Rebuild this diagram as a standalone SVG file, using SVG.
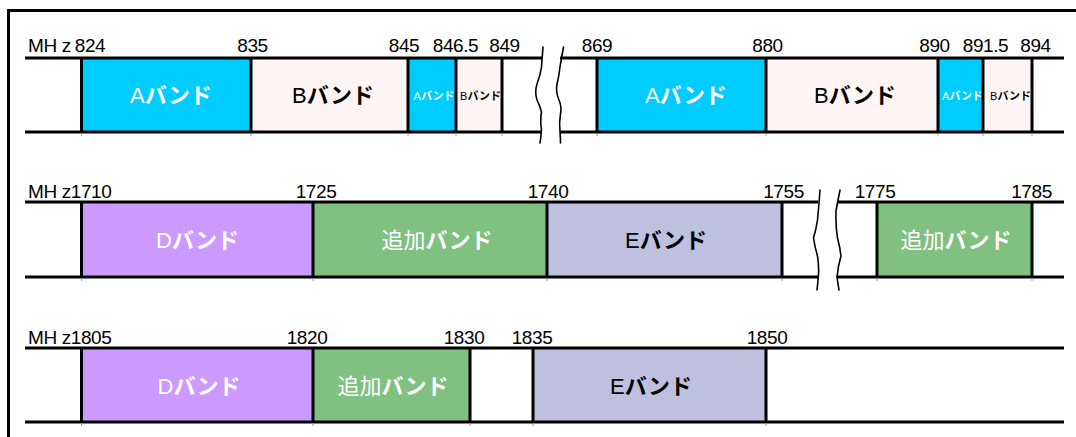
<svg xmlns="http://www.w3.org/2000/svg" width="1076" height="437" viewBox="0 0 1076 437">
<style>
.ln{stroke:#000;stroke-width:3;fill:none}
.wv{stroke:#000;stroke-width:1.6;fill:none;stroke-linejoin:round;stroke-linecap:round}
.tk{stroke:#999;stroke-width:1}
.num{font-family:"Liberation Sans",Arial,sans-serif;font-size:19px;letter-spacing:-0.4px;fill:#000}
.mid{text-anchor:middle}
.lbl{font-family:"Liberation Sans","Noto Sans CJK JP",sans-serif;font-size:22px;text-anchor:middle}
.sm{font-size:11px}
.w{fill:#fff}
.k{fill:#000}
.kn{font-family:"Noto Sans CJK JP",sans-serif;font-weight:700}
.cA{fill:#00CCFF}
.cB{fill:#FFF5F5}
.cD{fill:#CC99FF}
.cG{fill:#80C080}
.cE{fill:#BFBFDF}
</style>
<rect width="1076" height="437" fill="#fff"/>
<g id="frame">
<path class="ln" d="M8.5,437 V10.5 H1076"/>
</g>

<!-- Row 1 bands -->
<g id="r1-a1"><rect class="cA" x="81" y="58" width="170" height="74"/><text class="lbl w" x="171" y="103">A<tspan class="kn">バンド</tspan></text></g>
<g id="r1-b1"><rect class="cB" x="251" y="58" width="157" height="74"/><text class="lbl k" x="333" y="103">B<tspan class="kn">バンド</tspan></text></g>
<g id="r1-a1s"><rect class="cA" x="408" y="58" width="48" height="74"/><text class="lbl sm w" x="434" y="100">A<tspan class="kn">バンド</tspan></text></g>
<g id="r1-b1s"><rect class="cB" x="456" y="58" width="46" height="74"/><text class="lbl sm k" x="480.5" y="100">B<tspan class="kn">バンド</tspan></text></g>
<g id="r1-a2"><rect class="cA" x="597" y="58" width="169" height="74"/><text class="lbl w" x="686" y="103">A<tspan class="kn">バンド</tspan></text></g>
<g id="r1-b2"><rect class="cB" x="766" y="58" width="172" height="74"/><text class="lbl k" x="855" y="103">B<tspan class="kn">バンド</tspan></text></g>
<g id="r1-a2s"><rect class="cA" x="938" y="58" width="45" height="74"/><text class="lbl sm w" x="962.5" y="100">A<tspan class="kn">バンド</tspan></text></g>
<g id="r1-b2s"><rect class="cB" x="983" y="58" width="49" height="74"/><text class="lbl sm k" x="1010.5" y="100">B<tspan class="kn">バンド</tspan></text></g>

<!-- Row 2 bands -->
<g id="r2-d"><rect class="cD" x="81" y="202" width="232" height="75"/><text class="lbl w" x="197.5" y="248">D<tspan class="kn">バンド</tspan></text></g>
<g id="r2-g1"><rect class="cG" x="313" y="202" width="234" height="75"/><text class="lbl w" x="437" y="248">追加<tspan class="kn">バンド</tspan></text></g>
<g id="r2-e"><rect class="cE" x="547" y="202" width="235" height="75"/><text class="lbl k" x="666" y="248">E<tspan class="kn">バンド</tspan></text></g>
<g id="r2-g2"><rect class="cG" x="877" y="202" width="155" height="75"/><text class="lbl w" x="956" y="248">追加<tspan class="kn">バンド</tspan></text></g>

<!-- Row 3 bands -->
<g id="r3-d"><rect class="cD" x="81" y="348" width="232" height="74"/><text class="lbl w" x="199" y="394">D<tspan class="kn">バンド</tspan></text></g>
<g id="r3-g"><rect class="cG" x="313" y="348" width="157" height="74"/><text class="lbl w" x="393" y="394">追加<tspan class="kn">バンド</tspan></text></g>
<g id="r3-e"><rect class="cE" x="533" y="348" width="233" height="74"/><text class="lbl k" x="651" y="394">E<tspan class="kn">バンド</tspan></text></g>

<g id="lines">
<!-- row 1 -->
<path class="ln" d="M25,58 H542 M560,58 H1064 M25,132 H542 M560,132 H1064"/>
<path class="ln" d="M81.5,58 V132 M251,58 V132 M408,58 V132 M456,58 V132 M502,58 V132 M597,58 V132 M766,58 V132 M938,58 V132 M983,58 V132 M1032,58 V132"/>
<path class="tk" d="M81.5,133 V136 M251,133 V136 M408,133 V136 M456,133 V136 M502,133 V136 M597,133 V136 M766,133 V136 M938,133 V136 M983,133 V136 M1032,133 V136"/>
<path class="wv" d="M543,47 Q542,60 541.5,67 Q540.5,75 537,84 Q534.5,92 537,100 Q540,106 541.5,112 Q540,120 541.5,130 Q541,137 540,143"/>
<path class="wv" d="M563.5,47 Q561.5,58 560,67 Q559,76 557,84 Q555.5,92 559,100 Q562,107 560.5,114 Q559,122 560,132 Q560.5,138 560.5,143"/>
<!-- row 2 -->
<path class="ln" d="M25,202 H818 M837,202 H1064 M25,277 H818 M837,277 H1064"/>
<path class="ln" d="M81.5,202 V277 M313,202 V277 M547,202 V277 M782,202 V277 M877,202 V277 M1032,202 V277"/>
<path class="tk" d="M81.5,278 V281 M313,278 V281 M547,278 V281 M782,278 V281 M877,278 V281 M1032,278 V281"/>
<path class="wv" d="M820,190 Q819,205 817.5,220 Q816,230 813.5,238 Q815,248 817.5,256 Q819,266 818.5,274 Q818,282 817,290"/>
<path class="wv" d="M840,190 Q838,200 836,211 Q835.5,226 837.5,238 Q840,247 841,256 Q838,266 837,277 Q838,284 839,290"/>
<!-- row 3 -->
<path class="ln" d="M25,348 H1064 M25,422 H1064"/>
<path class="ln" d="M81.5,348 V422 M313,348 V422 M470,348 V422 M533,348 V422 M766,348 V422"/>
<path class="tk" d="M81.5,423 V426 M313,423 V426 M470,423 V426 M533,423 V426 M766,423 V426"/>
</g>

<g id="scale-labels">
<text class="num" x="28" y="52">MH z</text>
<text class="num mid" x="90" y="52">824</text>
<text class="num mid" x="252.5" y="52">835</text>
<text class="num mid" x="404" y="52">845</text>
<text class="num mid" x="455.5" y="52">846.5</text>
<text class="num mid" x="504.5" y="52">849</text>
<text class="num mid" x="597" y="52">869</text>
<text class="num mid" x="767.5" y="52">880</text>
<text class="num mid" x="934.5" y="52">890</text>
<text class="num mid" x="985.5" y="52">891.5</text>
<text class="num mid" x="1035.5" y="52">894</text>

<text class="num" x="28" y="198">MH z1710</text>
<text class="num mid" x="316" y="198">1725</text>
<text class="num mid" x="548" y="198">1740</text>
<text class="num mid" x="783.5" y="198">1755</text>
<text class="num mid" x="875" y="198">1775</text>
<text class="num mid" x="1031.5" y="198">1785</text>

<text class="num" x="28" y="344">MH z1805</text>
<text class="num mid" x="307" y="344">1820</text>
<text class="num mid" x="464" y="344">1830</text>
<text class="num mid" x="532" y="344">1835</text>
<text class="num mid" x="767" y="344">1850</text>
</g>
</svg>
